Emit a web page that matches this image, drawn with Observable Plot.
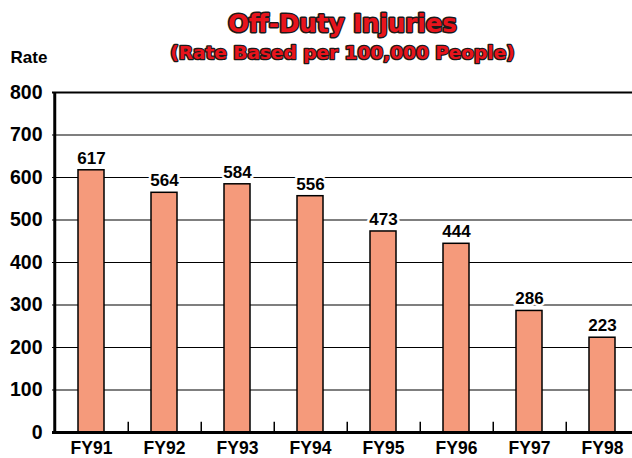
<!DOCTYPE html>
<html><head><meta charset="utf-8">
<script src="https://cdn.jsdelivr.net/npm/d3@7"></script>
<script src="https://cdn.jsdelivr.net/npm/@observablehq/plot@0.6"></script>
<style>body{margin:0;background:#fff}</style>
</head><body><div id="chart"></div>
<script>
const categories = ["FY91","FY92","FY93","FY94","FY95","FY96","FY97","FY98"];
const rates = [617,564,584,556,473,444,286,223];
const yTicks = [0,100,200,300,400,500,600,700,800];
const title = "Off-Duty Injuries";
const subtitle = "(Rate Based per 100,000 People)";
const yLabel = "Rate";

const data = categories.map((c,i)=>({cat:c, rate:rates[i]}));
const step = (640-52)/categories.length;

const chart = Plot.plot({
  width: 632, height: 458,
  marginLeft: 52, marginRight: 0, marginTop: 92, marginBottom: 26,
  style: {fontFamily: "Liberation Sans, Arial, sans-serif", background: "#fff"},
  x: {domain: categories, range: [52, 640], paddingInner: 0.65, paddingOuter: 0.325, align: 0.5, label: null},
  y: {domain: [0, 800], label: null},
  marks: [
    Plot.ruleY(yTicks.filter(d=>d>0 && d<800), {stroke: "#000", strokeWidth: 1.2}),
    Plot.ruleY([800], {stroke: "#000", strokeWidth: 2}),
    Plot.ruleX(categories.slice(0,-1), {x: d=>d, dx: step/2, y1: 0, y2: 24, stroke: "#000", strokeWidth: 1.5}),
    Plot.barY(data, {x: "cat", y: "rate", fill: "#f59a7b", stroke: "#000", strokeWidth: 1.5}),
    Plot.text(data, {x: "cat", y: "rate", text: d=>String(d.rate), dy: -12, fontSize: 17, fontWeight: "bold", fill: "#000", stroke: "#fff", strokeWidth: 5, paintOrder: "stroke"}),
    Plot.ruleY([0], {stroke: "#000", strokeWidth: 3}),
    Plot.ruleX([categories[0]], {x: d=>d, dx: -step/2, y1: 0, y2: 800, stroke: "#000", strokeWidth: 3}),
    Plot.axisY({ticks: yTicks, tickSize: 0, tickPadding: 10, fontSize: 19.5, fontWeight: "bold", fill: "#000", label: null}),
    Plot.axisX({tickSize: 0, tickPadding: 9, fontSize: 17.5, fontWeight: "bold", fill: "#000", label: null}),
    Plot.text([title], {frameAnchor: "top", dy: -78, fontSize: 24.5, fontWeight: "bold", fontFamily: "DejaVu Sans", fill: "#e8141c", stroke: "#1a1a1a", strokeWidth: 3, paintOrder: "stroke"}),
    Plot.text([subtitle], {frameAnchor: "top", dy: -47, fontSize: 18.5, fontWeight: "bold", fontFamily: "DejaVu Sans", fill: "#e8141c", stroke: "#1a1a1a", strokeWidth: 2.6, paintOrder: "stroke"}),
    Plot.text([yLabel], {frameAnchor: "top-left", dx: -42, dy: -42, textAnchor: "start", fontSize: 17, fontWeight: "bold", fill: "#000"})
  ]
});
document.getElementById("chart").appendChild(chart);
</script></body></html>
